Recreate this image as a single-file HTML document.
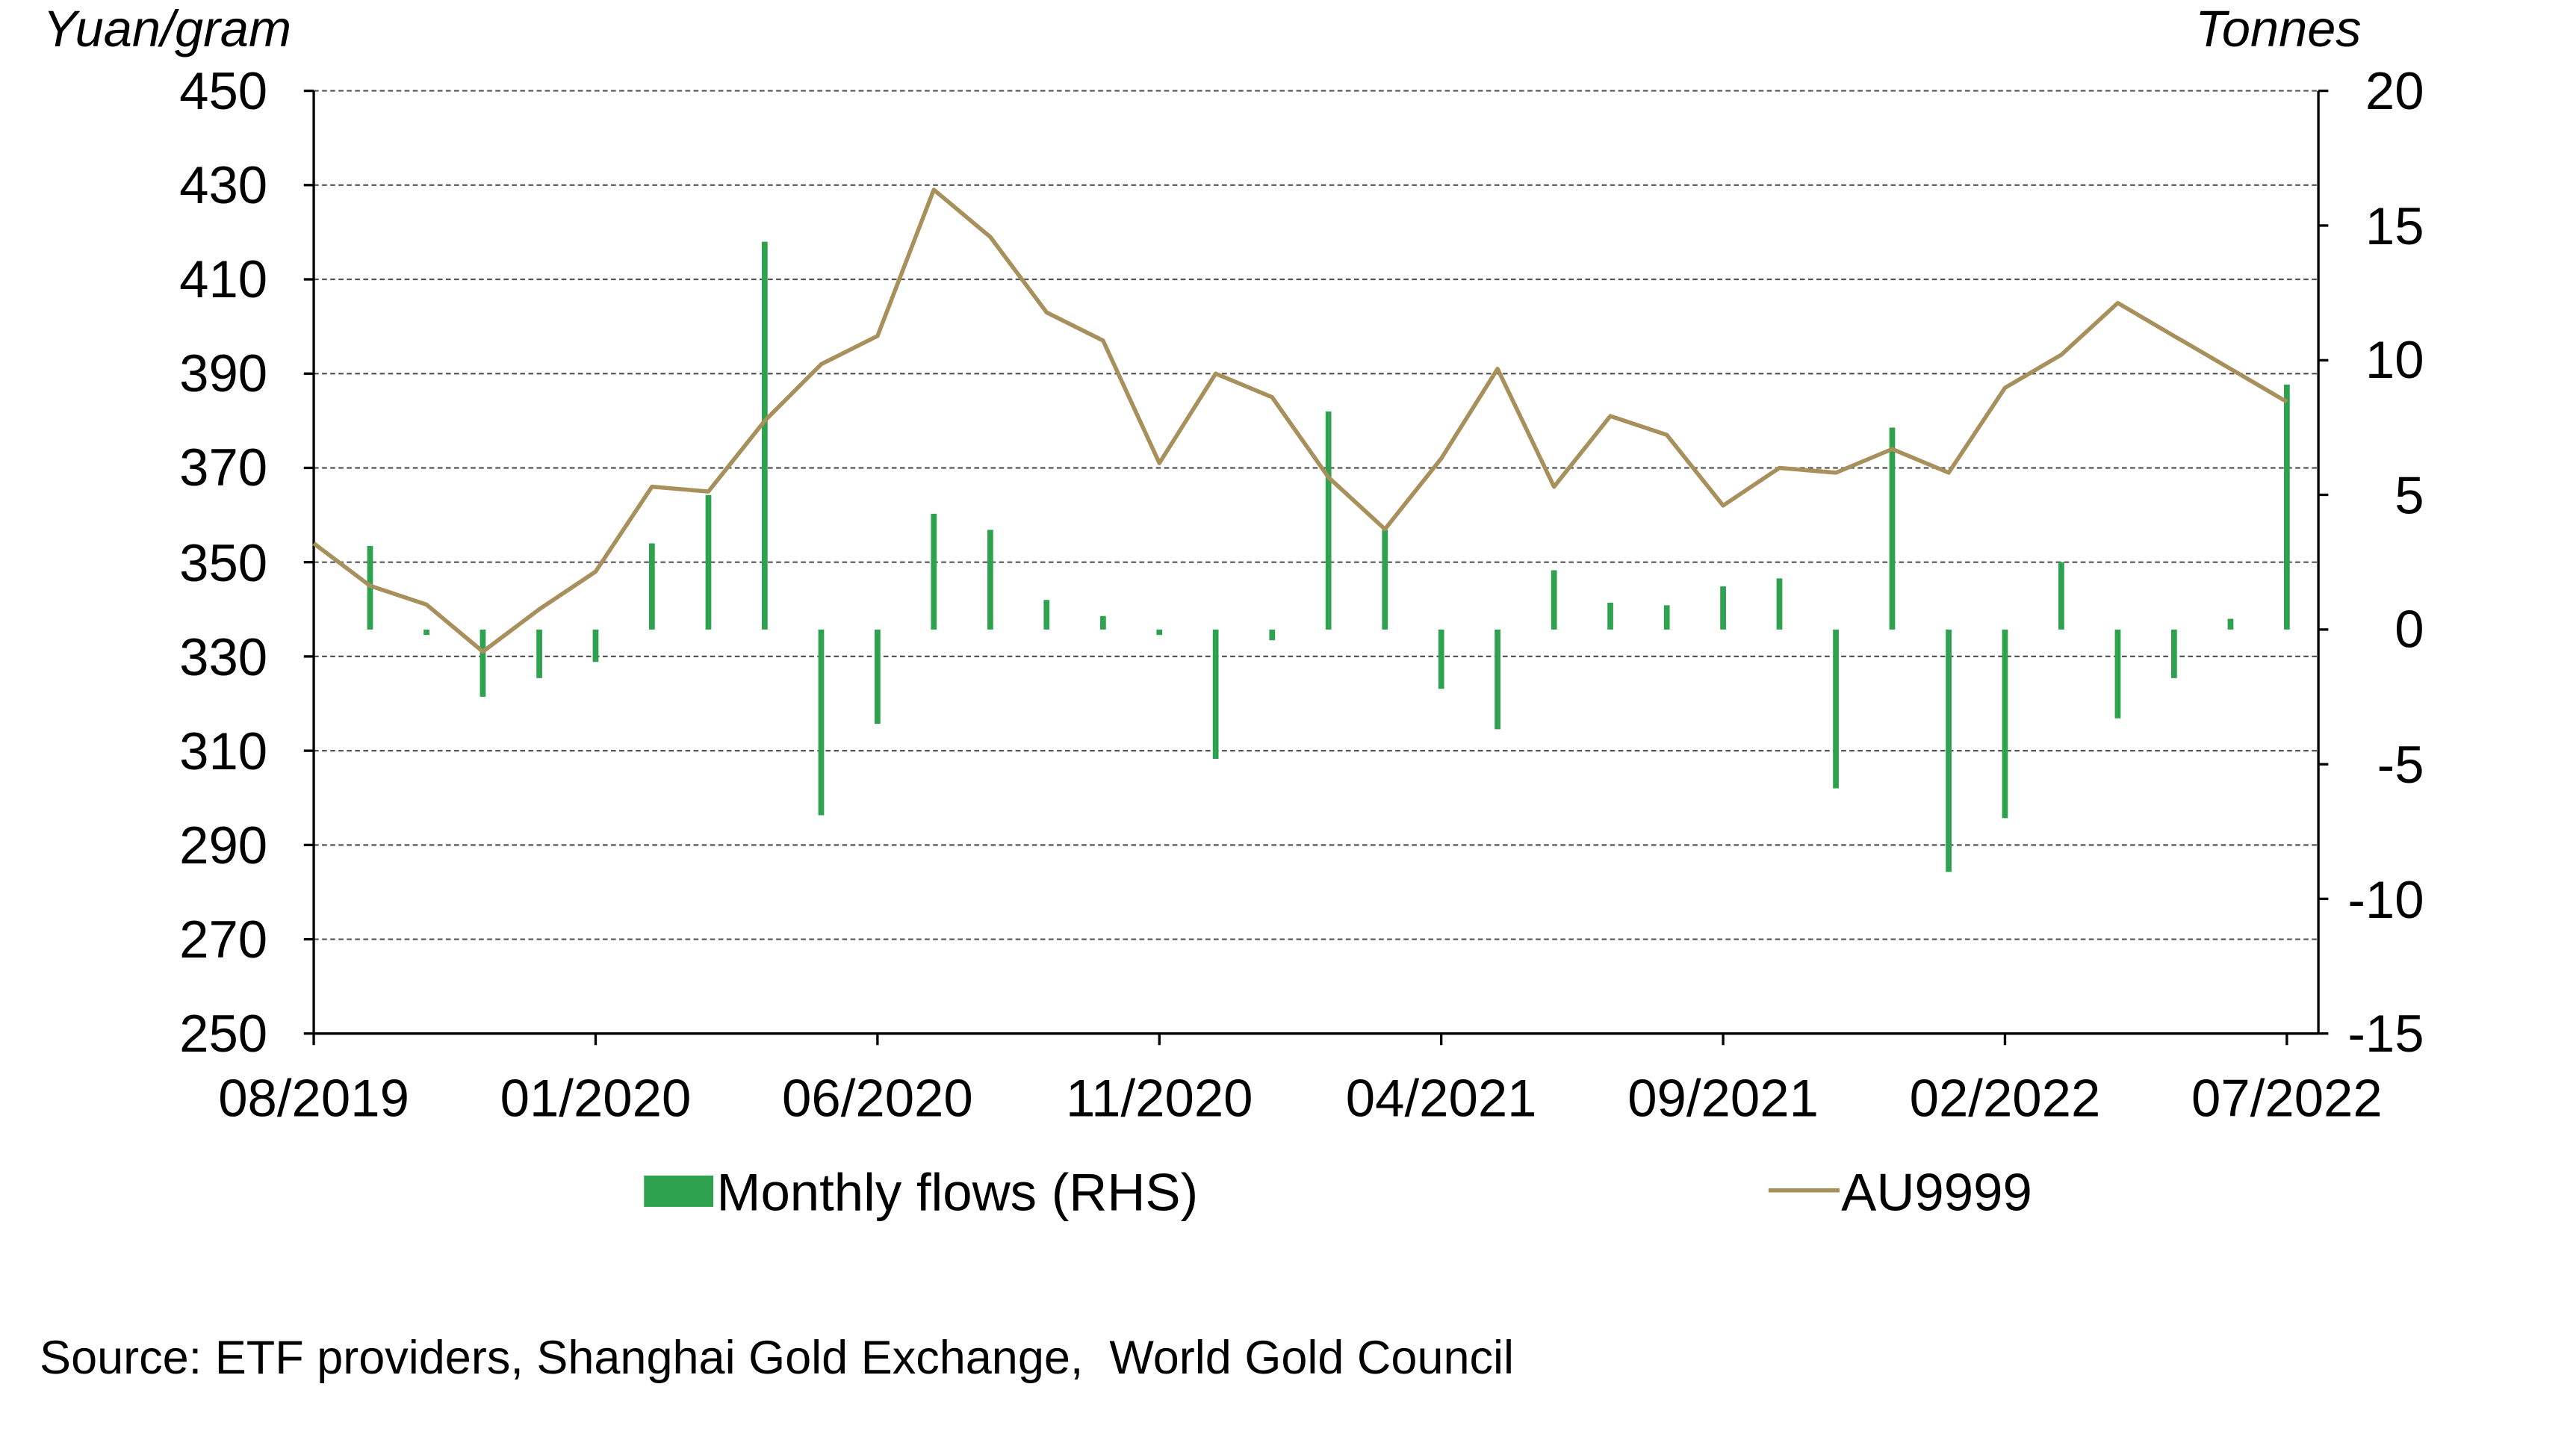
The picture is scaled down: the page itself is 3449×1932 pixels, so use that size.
<!DOCTYPE html>
<html><head><meta charset="utf-8"><style>
html,body{margin:0;padding:0;background:#fff;}
svg{display:block;}
text{font-family:"Liberation Sans",Arial,sans-serif;fill:#000;}
</style></head><body>
<svg width="3449" height="1932" viewBox="0 0 1560 874" preserveAspectRatio="none" xmlns="http://www.w3.org/2000/svg">
<rect width="1560" height="874" fill="#fff"/>
<g stroke="#555" stroke-width="1" stroke-dasharray="3,2">
<line x1="190" y1="55" x2="1404" y2="55"/>
<line x1="190" y1="112.1" x2="1404" y2="112.1"/>
<line x1="190" y1="169.2" x2="1404" y2="169.2"/>
<line x1="190" y1="226.3" x2="1404" y2="226.3"/>
<line x1="190" y1="283.4" x2="1404" y2="283.4"/>
<line x1="190" y1="340.5" x2="1404" y2="340.5"/>
<line x1="190" y1="397.6" x2="1404" y2="397.6"/>
<line x1="190" y1="454.7" x2="1404" y2="454.7"/>
<line x1="190" y1="511.8" x2="1404" y2="511.8"/>
<line x1="190" y1="568.9" x2="1404" y2="568.9"/>
</g>
<g stroke="#000" stroke-width="1.5">
<line x1="190" y1="55" x2="190" y2="626"/>
<line x1="1404" y1="55" x2="1404" y2="626"/>
<line x1="190" y1="626" x2="1404" y2="626"/>
<line x1="184" y1="55" x2="190" y2="55"/><line x1="184" y1="112.1" x2="190" y2="112.1"/><line x1="184" y1="169.2" x2="190" y2="169.2"/><line x1="184" y1="226.3" x2="190" y2="226.3"/><line x1="184" y1="283.4" x2="190" y2="283.4"/><line x1="184" y1="340.5" x2="190" y2="340.5"/><line x1="184" y1="397.6" x2="190" y2="397.6"/><line x1="184" y1="454.7" x2="190" y2="454.7"/><line x1="184" y1="511.8" x2="190" y2="511.8"/><line x1="184" y1="568.9" x2="190" y2="568.9"/><line x1="184" y1="626" x2="190" y2="626"/>
<line x1="1404" y1="55" x2="1410" y2="55"/><line x1="1404" y1="136.6" x2="1410" y2="136.6"/><line x1="1404" y1="218.2" x2="1410" y2="218.2"/><line x1="1404" y1="299.7" x2="1410" y2="299.7"/><line x1="1404" y1="381.3" x2="1410" y2="381.3"/><line x1="1404" y1="462.9" x2="1410" y2="462.9"/><line x1="1404" y1="544.4" x2="1410" y2="544.4"/><line x1="1404" y1="626" x2="1410" y2="626"/>
<line x1="190" y1="626" x2="190" y2="633"/><line x1="360.7" y1="626" x2="360.7" y2="633"/><line x1="531.4" y1="626" x2="531.4" y2="633"/><line x1="702.1" y1="626" x2="702.1" y2="633"/><line x1="872.8" y1="626" x2="872.8" y2="633"/><line x1="1043.5" y1="626" x2="1043.5" y2="633"/><line x1="1214.2" y1="626" x2="1214.2" y2="633"/><line x1="1384.9" y1="626" x2="1384.9" y2="633"/>
</g>
<g stroke="#2ea24e" stroke-width="3.5">
<line x1="224.1" y1="381.3" x2="224.1" y2="330.7"/>
<line x1="258.3" y1="381.3" x2="258.3" y2="384.6"/>
<line x1="292.4" y1="381.3" x2="292.4" y2="422"/>
<line x1="326.6" y1="381.3" x2="326.6" y2="410.7"/>
<line x1="360.7" y1="381.3" x2="360.7" y2="400.9"/>
<line x1="394.8" y1="381.3" x2="394.8" y2="329.1"/>
<line x1="429" y1="381.3" x2="429" y2="299.8"/>
<line x1="463.1" y1="381.3" x2="463.1" y2="146.4"/>
<line x1="497.3" y1="381.3" x2="497.3" y2="493.8"/>
<line x1="531.4" y1="381.3" x2="531.4" y2="438.4"/>
<line x1="565.5" y1="381.3" x2="565.5" y2="311.2"/>
<line x1="599.7" y1="381.3" x2="599.7" y2="320.9"/>
<line x1="633.8" y1="381.3" x2="633.8" y2="363.4"/>
<line x1="668" y1="381.3" x2="668" y2="373.1"/>
<line x1="702.1" y1="381.3" x2="702.1" y2="384.6"/>
<line x1="736.2" y1="381.3" x2="736.2" y2="459.6"/>
<line x1="770.4" y1="381.3" x2="770.4" y2="387.8"/>
<line x1="804.5" y1="381.3" x2="804.5" y2="249.2"/>
<line x1="838.7" y1="381.3" x2="838.7" y2="320.9"/>
<line x1="872.8" y1="381.3" x2="872.8" y2="417.2"/>
<line x1="906.9" y1="381.3" x2="906.9" y2="441.7"/>
<line x1="941.1" y1="381.3" x2="941.1" y2="345.4"/>
<line x1="975.2" y1="381.3" x2="975.2" y2="365"/>
<line x1="1009.4" y1="381.3" x2="1009.4" y2="366.6"/>
<line x1="1043.5" y1="381.3" x2="1043.5" y2="355.2"/>
<line x1="1077.6" y1="381.3" x2="1077.6" y2="350.3"/>
<line x1="1111.8" y1="381.3" x2="1111.8" y2="477.5"/>
<line x1="1145.9" y1="381.3" x2="1145.9" y2="259"/>
<line x1="1180.1" y1="381.3" x2="1180.1" y2="528.1"/>
<line x1="1214.2" y1="381.3" x2="1214.2" y2="495.5"/>
<line x1="1248.3" y1="381.3" x2="1248.3" y2="340.5"/>
<line x1="1282.5" y1="381.3" x2="1282.5" y2="435.1"/>
<line x1="1316.6" y1="381.3" x2="1316.6" y2="410.7"/>
<line x1="1350.8" y1="381.3" x2="1350.8" y2="374.8"/>
<line x1="1384.9" y1="381.3" x2="1384.9" y2="232.9"/>
</g>
<polyline fill="none" stroke="#a8905c" stroke-width="2.5" stroke-linejoin="round" points="190,329.1 224.1,354.8 258.3,366.2 292.4,394.7 326.6,369 360.7,346.2 394.8,294.8 429,297.7 463.1,254.9 497.3,220.6 531.4,203.5 565.5,114.9 599.7,143.5 633.8,189.2 668,206.3 702.1,280.5 736.2,226.3 770.4,240.6 804.5,289.1 838.7,320.5 872.8,277.7 906.9,223.4 941.1,294.8 975.2,252 1009.4,263.4 1043.5,306.2 1077.6,283.4 1111.8,286.3 1145.9,272 1180.1,286.3 1214.2,234.9 1248.3,214.9 1282.5,183.5 1316.6,203.5 1350.8,223.4 1384.9,243.4"/>
<g font-size="32" text-anchor="end">
<text x="162" y="66">450</text><text x="162" y="123">430</text><text x="162" y="180">410</text><text x="162" y="237">390</text><text x="162" y="294">370</text><text x="162" y="352">350</text><text x="162" y="409">330</text><text x="162" y="466">310</text><text x="162" y="523">290</text><text x="162" y="580">270</text><text x="162" y="637">250</text>
</g>
<g font-size="32" text-anchor="end">
<text x="1468" y="66">20</text><text x="1468" y="148">15</text><text x="1468" y="229">10</text><text x="1468" y="311">5</text><text x="1468" y="392">0</text><text x="1468" y="474">-5</text><text x="1468" y="556">-10</text><text x="1468" y="637">-15</text>
</g>
<g font-size="32" text-anchor="middle">
<text x="190" y="676">08/2019</text><text x="360.7" y="676">01/2020</text><text x="531.4" y="676">06/2020</text><text x="702.1" y="676">11/2020</text><text x="872.8" y="676">04/2021</text><text x="1043.5" y="676">09/2021</text><text x="1214.2" y="676">02/2022</text><text x="1384.9" y="676">07/2022</text>
</g>
<text x="26" y="28" font-size="31" font-style="italic">Yuan/gram</text>
<text x="1430" y="28" font-size="31" font-style="italic" text-anchor="end">Tonnes</text>
<rect x="390" y="712" width="42" height="19" fill="#2ea24e"/>
<text x="434" y="733" font-size="32">Monthly flows (RHS)</text>
<line x1="1071" y1="721" x2="1114" y2="721" stroke="#a8905c" stroke-width="2.5"/>
<text x="1115" y="733" font-size="32">AU9999</text>
<text x="24" y="832" font-size="28.5" xml:space="preserve">Source: ETF providers, Shanghai Gold Exchange,  World Gold Council</text>
</svg>
</body></html>
